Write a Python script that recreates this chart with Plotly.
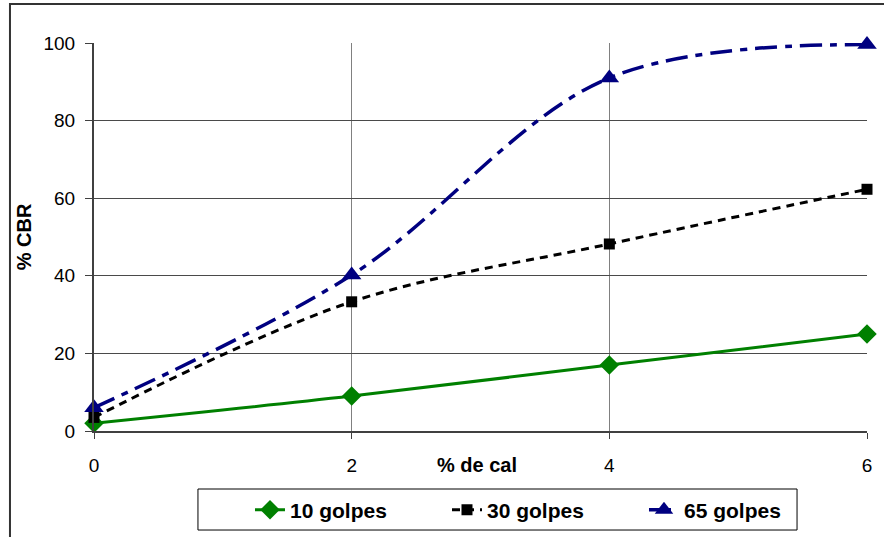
import plotly.graph_objects as go

cal = [0, 2, 4, 6]
g10 = [2, 9, 17, 25]
g30 = [3.5, 33.3, 48.2, 62.3]
g65 = [6, 40.2, 91, 99.6]
series_names = ["10 golpes", "30 golpes", "65 golpes"]
y_ticks = [0, 20, 40, 60, 80, 100]
x_ticks = [0, 2, 4, 6]

FONT = "Liberation Sans, Arial, sans-serif"

fig = go.Figure()
fig.add_trace(go.Scatter(
    x=cal, y=g10, name=series_names[0], mode="lines+markers",
    line=dict(color="#008000", width=3, shape="spline"),
    marker=dict(symbol="diamond", size=15, color="#008000"),
    cliponaxis=False))
fig.add_trace(go.Scatter(
    x=cal, y=g30, name=series_names[1], mode="lines+markers",
    line=dict(color="#000000", width=3, shape="spline", dash="8px,6px"),
    marker=dict(symbol="square", size=11, color="#000000"),
    cliponaxis=False))
fig.add_trace(go.Scatter(
    x=cal, y=g65, name=series_names[2], mode="lines+markers",
    line=dict(color="#000080", width=3.5, shape="spline", dash="22px,8px,7px,8px"),
    marker=dict(symbol="triangle-up", size=17, color="#000080"),
    cliponaxis=False))

fig.update_layout(
    width=884, height=537,
    margin=dict(l=94, r=17, t=43, b=106, autoexpand=False),
    paper_bgcolor="white", plot_bgcolor="white",
    font=dict(family=FONT, size=19, color="#000000"),
    showlegend=True,
    legend=dict(orientation="h", x=0.2018, xanchor="left", y=-0.2036, yanchor="middle",
                borderwidth=0, bgcolor="rgba(0,0,0,0)",
                font=dict(family=FONT, size=21, weight="bold"),
                entrywidth=152, tracegroupgap=0),
    shapes=[
        dict(type="rect", xref="paper", yref="paper",
             x0=-0.1087, x1=1.5, y0=-1.0, y1=1.1005,
             line=dict(color="#333333", width=2), layer="below"),
        dict(type="rect", xref="paper", yref="paper",
             x0=0.1345, x1=0.9095, y0=-0.2552, y1=-0.1495,
             line=dict(color="#000000", width=1), fillcolor="white", layer="below"),
    ],
    annotations=[dict(text="<b>% de cal</b>", xref="paper", yref="paper",
                      x=0.496, y=-0.0876, xanchor="center", yanchor="middle",
                      showarrow=False, font=dict(family=FONT, size=20))],
)
fig.update_xaxes(
    range=[0, 6], tickvals=x_ticks, ticktext=[str(v) for v in x_ticks],
    showgrid=True, gridcolor="#808080", gridwidth=1,
    showline=True, linecolor="#404040", linewidth=2,
    ticks="outside", ticklen=6, tickcolor="#404040",
    tickfont=dict(size=19, family=FONT), zeroline=False,
    ticklabelstandoff=10, automargin=False,
)
fig.update_yaxes(
    range=[0, 100], tickvals=y_ticks, ticktext=[str(v) for v in y_ticks],
    showgrid=True, gridcolor="#4a4a4a", gridwidth=1,
    showline=True, linecolor="#404040", linewidth=2,
    ticks="outside", ticklen=7, tickcolor="#404040",
    tickfont=dict(size=19, family=FONT), zeroline=False,
    ticklabelstandoff=6, automargin=False,
    title=dict(text="<b>% CBR</b>", font=dict(size=20, family=FONT), standoff=6),
)

fig.write_html(
    "out.html",
    config={"displayModeBar": False},
    post_script="document.body.style.margin='0';document.body.style.overflow='hidden';",
)
